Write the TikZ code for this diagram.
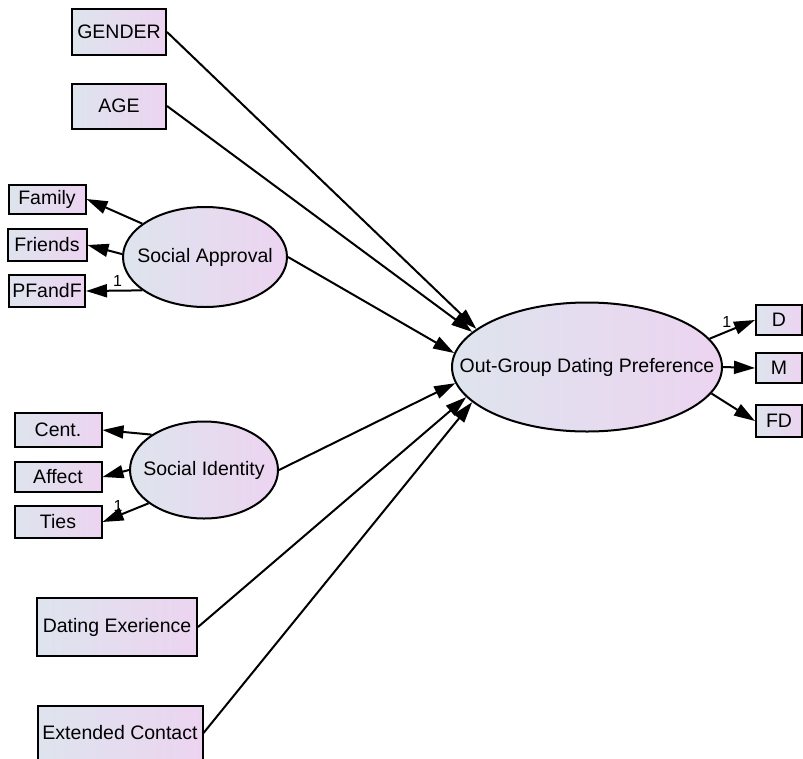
\documentclass[tikz,border=0pt]{standalone}
\usepackage{fontspec}
\setmainfont{Liberation Sans}
\usetikzlibrary{arrows.meta,shapes.geometric}
\definecolor{fillL}{RGB}{222,228,238}
\definecolor{fillR}{RGB}{236,212,240}

\begin{document}
\begin{tikzpicture}[
  x=1pt, y=-1pt,
  font=\fontsize{19.5}{23}\selectfont,
  obs/.style={draw, line width=2pt, left color=fillL, right color=fillR,
              inner sep=0pt, minimum height=31pt},
  lat/.style={ellipse, draw, line width=2pt, left color=fillL,
              right color=fillR, inner sep=0pt},
  arr/.style={-{Triangle[length=21pt,width=13pt]}, line width=2pt},
  lbl/.style={font=\fontsize{16}{18}\selectfont, inner sep=3.5pt}
]
\useasboundingbox (0,0) rectangle (803,758);
% exogenous observed
\node[obs, minimum width=94pt, minimum height=46pt] (gender) at (119,32) {GENDER};
\node[obs, minimum width=94pt, minimum height=45pt] (age) at (119,106) {AGE};
\node[obs, minimum width=160pt, minimum height=58pt] (dating) at (117,627) {Dating Exerience};
\node[obs, minimum width=165pt, minimum height=55pt] (extended) at (120,733) {Extended Contact};
% social approval
\node[lat, minimum width=164pt, minimum height=100pt] (sa) at (205,257) {\makebox[0pt]{Social Approval}};
\node[obs, minimum width=77pt, minimum height=29pt] (family) at (47,199) {Family};
\node[obs, minimum width=79pt, minimum height=32pt] (friends) at (47,245) {Friends};
\node[obs, minimum width=76pt, minimum height=32pt] (pfandf) at (47,291) {PFandF};
% social identity
\node[lat, minimum width=148pt, minimum height=97pt] (si) at (204,470) {\makebox[0pt]{Social Identity}};
\node[obs, minimum width=87pt, minimum height=34pt] (cent) at (58,430) {Cent.};
\node[obs, minimum width=87pt, minimum height=30pt] (affect) at (58,477) {Affect};
\node[obs, minimum width=87pt, minimum height=32pt] (ties) at (58,522) {Ties};
% outcome
\node[lat, minimum width=270pt, minimum height=129pt] (ogdp) at (587,367) {\makebox[0pt]{Out-Group Dating Preference}};
\node[obs, minimum width=46pt, minimum height=30pt] (d) at (779,320) {D};
\node[obs, minimum width=46pt, minimum height=30pt] (m) at (779,368) {M};
\node[obs, minimum width=46pt, minimum height=32pt] (fd) at (779,421) {FD};

% measurement paths
\draw[arr] (sa.152) -- (family.east);
\draw[arr] (sa.178) -- (friends.east);
\draw[arr] (sa.208) -- node[lbl, above, pos=0.44] {1} (pfandf.east);
\draw[arr] (si.146) -- (cent.east);
\draw[arr] (si.180) -- (affect.east);
\draw[arr] (si.211) -- node[lbl, above, pos=0.66] {1} (ties.east);
\draw[arr] (ogdp.13) -- node[lbl, above, pos=0.38] {1} (d.west);
\draw[arr] (ogdp.0) -- (m.west);
\draw[arr] (ogdp.-12) -- (fd.west);

% structural paths
\foreach \x/\a in {gender/161, age/163.5, sa/174, si/187, dating/194.5, extended/197.5} {
  \draw[arr] (\x.east) -- (ogdp.\a);
}
\end{tikzpicture}
\end{document}
